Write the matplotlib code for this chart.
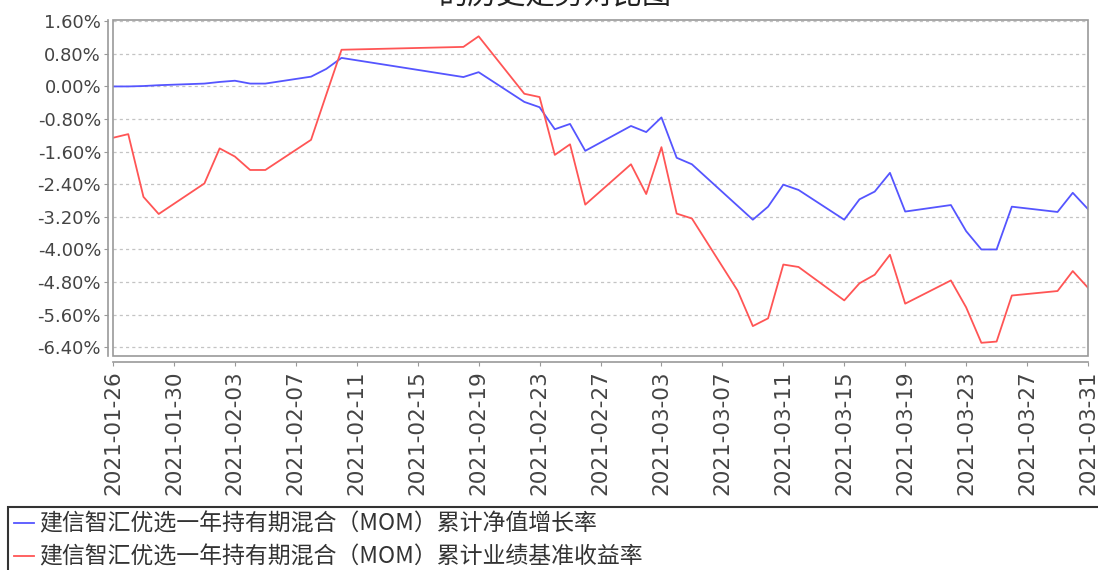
import numpy as np
import pandas as pd
import matplotlib
matplotlib.use("Agg")
import matplotlib.pyplot as plt
import matplotlib.dates as mdates
from matplotlib.patches import Rectangle
from matplotlib.lines import Line2D

plt.rcParams['font.family'] = ['DejaVu Sans', 'Noto Sans CJK SC']

#------------------------------------------------------------------------------------------
# data (percent)
#------------------------------------------------------------------------------------------

dates = pd.to_datetime([
    '2021-01-26', '2021-01-27', '2021-01-28', '2021-01-29',
    '2021-02-01', '2021-02-02', '2021-02-03', '2021-02-04', '2021-02-05',
    '2021-02-08', '2021-02-09', '2021-02-10',
    '2021-02-18', '2021-02-19',
    '2021-02-22', '2021-02-23', '2021-02-24', '2021-02-25', '2021-02-26',
    '2021-03-01', '2021-03-02', '2021-03-03', '2021-03-04', '2021-03-05',
    '2021-03-08', '2021-03-09', '2021-03-10', '2021-03-11', '2021-03-12',
    '2021-03-15', '2021-03-16', '2021-03-17', '2021-03-18', '2021-03-19',
    '2021-03-22', '2021-03-23', '2021-03-24', '2021-03-25', '2021-03-26',
    '2021-03-29', '2021-03-30', '2021-03-31'])

nav_growth = [
    0.00, 0.00, 0.01, 0.03,
    0.07, 0.11, 0.14, 0.07, 0.07,
    0.24, 0.43, 0.70,
    0.23, 0.35,
    -0.38, -0.51, -1.05, -0.92, -1.58,
    -0.97, -1.12, -0.76, -1.75, -1.91,
    -2.93, -3.27, -2.95, -2.41, -2.54,
    -3.27, -2.77, -2.58, -2.12, -3.07,
    -2.91, -3.55, -4.00, -4.00, -2.95,
    -3.08, -2.61, -3.01]

benchmark = [
    -1.26, -1.17, -2.71, -3.13,
    -2.38, -1.52, -1.72, -2.05, -2.05,
    -1.31, -0.20, 0.90,
    0.97, 1.23,
    -0.18, -0.26, -1.68, -1.42, -2.90,
    -1.91, -2.64, -1.49, -3.12, -3.24,
    -5.01, -5.88, -5.69, -4.37, -4.43,
    -5.25, -4.83, -4.62, -4.13, -5.33,
    -4.76, -5.42, -6.29, -6.26, -5.13,
    -5.02, -4.53, -4.94]

y_ticks = [1.6, 0.8, 0.0, -0.8, -1.6, -2.4, -3.2, -4.0, -4.8, -5.6, -6.4]

title = '的历史走势对比图'
labels = ['建信智汇优选一年持有期混合（MOM）累计净值增长率',
          '建信智汇优选一年持有期混合（MOM）累计业绩基准收益率']

blue = '#5555ff'
red = '#ff5555'

#------------------------------------------------------------------------------------------
# figure
#------------------------------------------------------------------------------------------

fig = plt.figure(figsize=(10.98, 5.70), dpi=100)
ax = fig.add_axes([113/1098, 1 - 356/570, 975/1098, 336/570])

ax.plot(dates, nav_growth, color=blue, lw=1.3)
ax.plot(dates, benchmark, color=red, lw=1.3)

ax.set_xlim(pd.Timestamp('2021-01-26'), pd.Timestamp('2021-03-31'))
ax.set_ylim(-6.614, 1.63)

ax.set_yticks(y_ticks)
ax.set_yticklabels([f'{v:.2f}%' for v in y_ticks])
ax.set_xticks(pd.date_range('2021-01-26', '2021-03-31', freq='4D'))
ax.xaxis.set_major_formatter(mdates.DateFormatter('%Y-%m-%d'))

ax.grid(axis='y', color='#c4c4c4', ls=(0, (2.5, 2.5)), lw=0.9)
ax.set_axisbelow(True)

for s in ['top', 'right']:
    ax.spines[s].set_visible(False)
ax.spines['left'].set_position(('outward', 3.6))
ax.spines['bottom'].set_position(('outward', 4.3))
for s in ['left', 'bottom']:
    ax.spines[s].set_color('#999999')
    ax.spines[s].set_linewidth(1.2)
ax.add_patch(Rectangle((0, 0), 1, 1, transform=ax.transAxes, fill=False,
                       edgecolor='#999999', lw=1.2, clip_on=False, zorder=5))

ax.tick_params(axis='both', direction='out', length=3, color='#999999',
               labelcolor='#444444', labelsize=13)
ax.tick_params(axis='y', pad=2)
ax.tick_params(axis='x', pad=3, labelrotation=90, labelsize=15.5)

# title (only its last line shows at the top edge)
fig.text(555/1098, 1 - 11/570, title, ha='center', va='bottom', fontsize=21,
         color='#222222', family=['Noto Sans CJK SC', 'DejaVu Sans'])

# legend box running off the bottom right
fig.add_artist(Rectangle((8/1098, -0.05), 1.0, 0.05 + 63/570, transform=fig.transFigure,
                         fill=False, edgecolor='#333333', lw=1.5))
handles = [Line2D([], [], color=blue, lw=1.3), Line2D([], [], color=red, lw=1.3)]
leg = fig.legend(handles, labels, loc='upper left', bbox_to_anchor=(9/1098, 1 - 508/570),
                 frameon=False, handlelength=0.9, handletextpad=0.2, labelspacing=0.45,
                 borderpad=0.2, borderaxespad=0.0,
                 prop={'family': ['Noto Sans CJK SC', 'DejaVu Sans'], 'size': 16.5})
for t in leg.get_texts():
    t.set_color('#333333')

fig.savefig('out.png', dpi=100)
